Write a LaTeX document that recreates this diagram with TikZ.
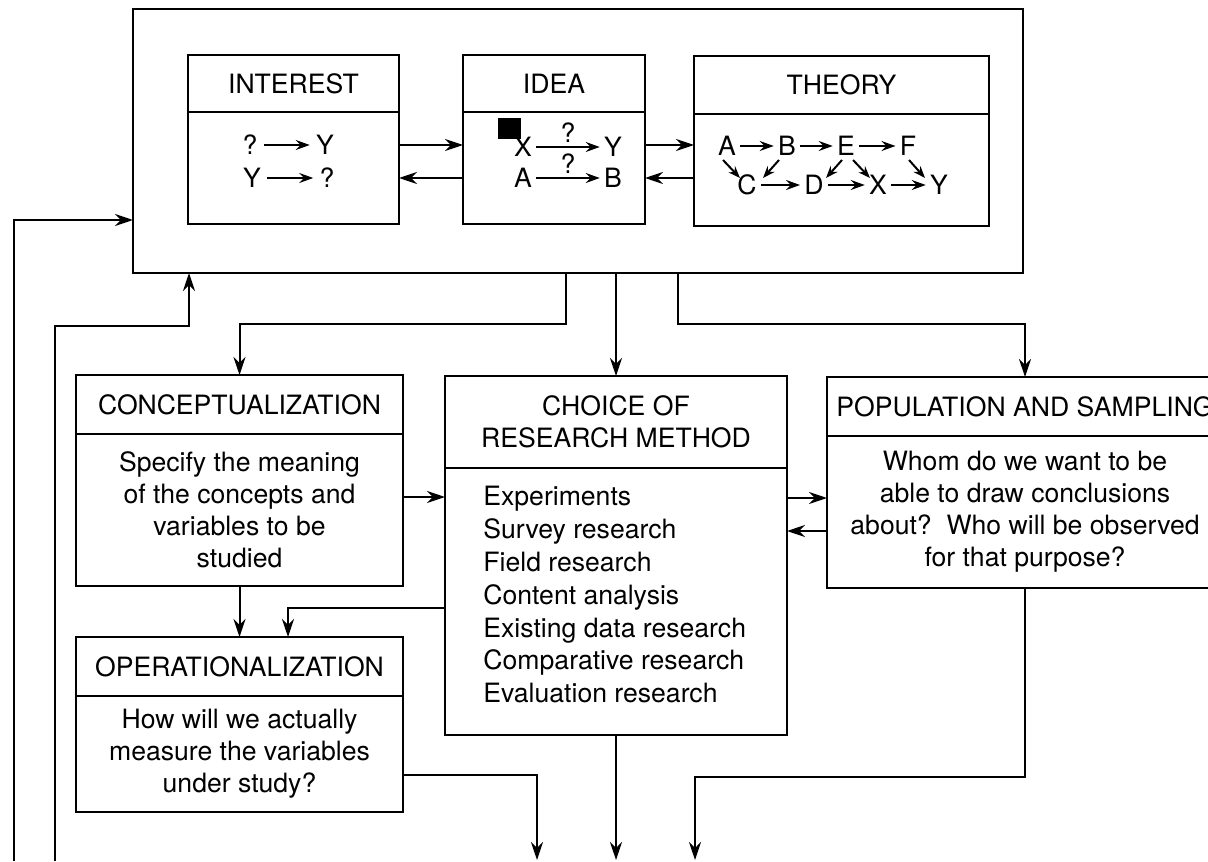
\documentclass[tikz,border=0pt]{standalone}
\usepackage{fontspec}
\setmainfont{TeX Gyre Heros}
\usetikzlibrary{arrows.meta}

\begin{document}
\begin{tikzpicture}[x=0.5pt, y=-0.5pt,
  every node/.style={font=\fontsize{13.3}{16}\selectfont},
  box/.style={draw, line width=1.2pt, inner sep=0pt, outer sep=0pt, anchor=north west, align=center},
  wire/.style={line width=1pt},
  conn/.style={line width=1pt, -{Stealth[length=9pt, width=6pt, inset=3pt]}},
  sarr/.style={line width=1pt, -{Stealth[length=7pt, width=5pt, inset=2.5pt]}},
  darr/.style={line width=1pt, -{Stealth[length=6pt, width=4.5pt, inset=2pt]}},
  let/.style={inner sep=2pt},
  qlet/.style={inner sep=3pt},
  listtext/.style={anchor=north west, align=left, inner sep=0pt,
    font=\fontsize{13.3}{16.4}\selectfont}
]
\useasboundingbox (0,0) rectangle (1208,861);

% ---------- outer frame with the three stages ----------
\node[box, minimum width=445pt, minimum height=132pt] (big) at (133,9) {};

\node[box, minimum width=105.5pt, minimum height=28.5pt] (intH) at (188,55) {INTEREST};
\node[box, minimum width=105.5pt, minimum height=56pt] (intB) at (intH.south west) {};

\node[box, minimum width=91pt, minimum height=28.5pt] (ideaH) at (463,55) {IDEA};
\node[box, minimum width=91pt, minimum height=56pt] (ideaB) at (ideaH.south west) {};

\node[box, minimum width=147.5pt, minimum height=29pt] (thH) at (694,56) {THEORY};
\node[box, minimum width=147.5pt, minimum height=56pt] (thB) at (thH.south west) {};

% interest contents
\node[qlet] (iq1) at (250,145) {?};
\node[qlet] (iy1) at (325,145) {Y};
\node[qlet] (iy2) at (252,178) {Y};
\node[qlet] (iq2) at (327,178) {?};
\draw[sarr] (iq1) -- (iy1);
\draw[sarr] (iy2) -- (iq2);

% idea contents
\node[fill, inner sep=0pt, minimum width=11.5pt, minimum height=10.5pt, anchor=north west] (sq) at (498,118) {};
\node[let] (dX) at (523,147) {X};
\node[let] (dY) at (613,147) {Y};
\node[let] (dA) at (523,178) {A};
\node[let] (dB) at (613,178) {B};
\draw[sarr] (dX) -- node[above, inner sep=1.5pt] {?} (dY);
\draw[sarr] (dA) -- node[above, inner sep=1.5pt] {?} (dB);

% theory contents
\node[let] (tA) at (727,146) {A};
\node[let] (tB) at (787,146) {B};
\node[let] (tE) at (846,146) {E};
\node[let] (tF) at (908,146) {F};
\node[let] (tC) at (747,185) {C};
\node[let] (tD) at (814,185) {D};
\node[let] (tX) at (878,185) {X};
\node[let] (tY) at (939,185) {Y};
\draw[sarr] (tA) -- (tB);
\draw[sarr] (tB) -- (tE);
\draw[sarr] (tE) -- (tF);
\draw[sarr] (tC) -- (tD);
\draw[sarr] (tD) -- (tX);
\draw[sarr] (tX) -- (tY);
\draw[darr] ([shift={(-4,14)}]tA.center) -- ([shift={(-7,-7)}]tC.center);
\draw[darr] ([shift={(-8,14)}]tB.center) -- ([shift={(16,-7)}]tC.center);
\draw[darr] ([shift={(-4,14)}]tE.center) -- ([shift={(12,-7)}]tD.center);
\draw[darr] ([shift={(7,14)}]tE.center) -- ([shift={(-8,-7)}]tX.center);
\draw[darr] ([shift={(1,14)}]tF.center) -- ([shift={(-14,-7)}]tY.center);

% links between the three stages
\coordinate (ra) at (0,145);
\coordinate (rb) at (0,178);
\draw[conn] (intB.east |- ra) -- (ideaB.west |- ra);
\draw[conn] (ideaB.west |- rb) -- (intB.east |- rb);
\draw[conn] (ideaB.east |- ra) -- (thB.west |- ra);
\draw[conn] (thB.west |- rb) -- (ideaB.east |- rb);

% ---------- second tier ----------
\node[box, minimum width=163.5pt, minimum height=29.5pt] (conH) at (76,375) {CONCEPTUALIZATION};
\node[box, minimum width=163.5pt, minimum height=76pt] (conB) at (conH.south west)
  {Specify the meaning\\of the concepts and\\variables to be\\studied};

\node[box, minimum width=171pt, minimum height=46pt] (choH) at (445,376)
  {CHOICE OF\\RESEARCH METHOD};
\node[box, minimum width=171pt, minimum height=133.5pt] (choB) at (choH.south west) {};
\node[listtext] (methods) at (483,486)
  {Experiments\\Survey research\\Field research\\Content analysis\\Existing data research\\Comparative research\\Evaluation research};

\node[box, minimum width=198pt, minimum height=29.5pt] (popH) at (827,377) {POPULATION AND SAMPLING};
\node[box, minimum width=198pt, minimum height=76pt] (popB) at (popH.south west)
  {Whom do we want to be\\able to draw conclusions\\about?\ \ Who will be observed\\for that purpose?};

\node[box, minimum width=163.5pt, minimum height=29.5pt] (opH) at (76,637) {OPERATIONALIZATION};
\node[box, minimum width=163.5pt, minimum height=58pt] (opB) at (opH.south west)
  {How will we actually\\measure the variables\\under study?};

% frame to second tier
\coordinate (bl) at (566,324);
\coordinate (br) at (678,324);
\draw[conn] (choH.north |- big.south) -- (choH.north);
\draw[conn] (bl |- big.south) -- (bl) -| (conH.north);
\draw[conn] (br |- big.south) -- (br) -| (popH.north);

% links within the second tier
\coordinate (rc) at (0,497);
\coordinate (rd) at (0,498);
\coordinate (re) at (0,531);
\draw[conn] (conB.east |- rc) -- (choB.west |- rc);
\draw[conn] (choB.east |- rd) -- (popB.west |- rd);
\draw[conn] (popB.west |- re) -- (choB.east |- re);
\draw[conn] (conB.south) -- (opH.north);
\coordinate (ck) at (288,608);
\draw[conn] (choB.west |- ck) -- (ck) -- (ck |- opH.north);

% outputs at the foot
\coordinate (o1) at (537,860);
\coordinate (o2) at (616,860);
\coordinate (o3) at (695,860);
\coordinate (ok) at (537,775);
\coordinate (pk) at (695,777);
\draw[conn] (opB.east |- ok) -- (ok) -- (o1);
\draw[conn] (choB.south) -- (choB.south |- o2);
\draw[conn] (popB.south) -- (popB.south |- pk) -- (pk) -- (o3);

% feedback lines back to the frame
\coordinate (f1) at (14,861);
\coordinate (f1k) at (14,220);
\coordinate (f2) at (55,861);
\coordinate (f2k) at (189,326);
\draw[conn] (f1) -- (f1k) -- (big.west |- f1k);
\draw[conn] (f2) |- (f2k) -- (f2k |- big.south);
\end{tikzpicture}
\end{document}
